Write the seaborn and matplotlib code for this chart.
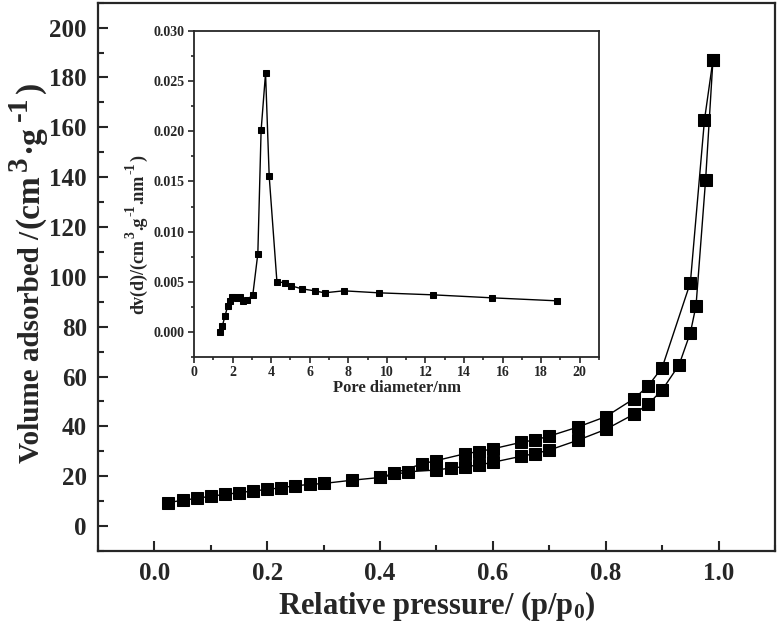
import matplotlib
matplotlib.use("Agg")
import matplotlib.pyplot as plt
import seaborn as sns
import pandas as pd
from matplotlib.ticker import MultipleLocator, FormatStrFormatter

# N2 adsorption-desorption isotherm (main plot)
ads_p = [0.025, 0.05, 0.075, 0.1, 0.125, 0.15, 0.175, 0.2, 0.225, 0.25, 0.275, 0.3,
         0.35, 0.4, 0.45, 0.5, 0.525, 0.55, 0.575, 0.6, 0.65, 0.675, 0.7, 0.75,
         0.8, 0.85, 0.875, 0.9, 0.93, 0.95, 0.96, 0.977, 0.99]
ads_v = [9.4, 10.4, 11.1, 12.0, 12.7, 13.4, 14.1, 14.7, 15.4, 16.2, 16.7, 17.1,
         18.4, 19.5, 21.8, 22.5, 23.3, 23.8, 24.5, 25.6, 28.0, 29.1, 30.5, 34.4,
         38.8, 44.9, 48.9, 54.6, 64.7, 77.6, 88.4, 139.0, 187.0]
des_p = [0.99, 0.975, 0.95, 0.9, 0.875, 0.85, 0.8, 0.75, 0.7, 0.675, 0.65, 0.6,
         0.575, 0.55, 0.5, 0.475, 0.425, 0.4]
des_v = [187.0, 163.0, 97.7, 63.6, 56.2, 51.1, 43.9, 39.7, 36.1, 34.6, 33.6, 31.0,
         29.9, 29.0, 26.3, 25.0, 21.2, 19.5]

# BJH pore size distribution (inset)
pore_d = [1.33, 1.47, 1.61, 1.75, 1.85, 1.95, 2.1, 2.25, 2.4, 2.55, 2.75, 3.05,
          3.31, 3.48, 3.71, 3.9, 4.3, 4.73, 5.04, 5.59, 6.25, 6.77, 7.76, 9.58,
          12.38, 15.46, 18.84]
pore_dv = [0.0000, 0.0006, 0.0016, 0.0026, 0.0031, 0.0035, 0.0035, 0.0034, 0.0035,
           0.0031, 0.0032, 0.0037, 0.0078, 0.0201, 0.0258, 0.0155, 0.0050, 0.0049,
           0.0046, 0.0043, 0.0041, 0.0039, 0.0041, 0.0039, 0.0037, 0.0034, 0.0031]

# axis titles, split into (text, fontsize, superscript?) pieces
main_ylabel = [('Volume adsorbed /', 21, False), ('(cm', 24, False), ('3', 21, True),
               ('·g', 24, False), ('-1', 21, True), (')', 24, False)]
inset_ylabel = [('dv(d)/(cm', 13, False), ('3', 10, True), ('.g', 13, False),
                ('-1', 10, True), ('.nm', 13, False), ('-1', 10, True), (')', 13, False)]

sns.set_style("ticks")
plt.rcParams['font.family'] = ['Liberation Serif', 'DejaVu Serif']
plt.rcParams['font.weight'] = 'bold'
plt.rcParams['mathtext.fontset'] = 'custom'
plt.rcParams['mathtext.rm'] = 'Liberation Serif:bold'
plt.rcParams['mathtext.it'] = 'Liberation Serif:bold'
plt.rcParams['mathtext.bf'] = 'Liberation Serif:bold'


def stacked_label(ax, x, y, pieces, gap=1.5, rise=2.5):
    """vertical axis title built from pieces so superscripts can stay large"""
    txt, size, _ = pieces[0]
    base = prev = ax.figure.text(x, y, txt, rotation=90, ha='center', va='bottom',
                                 fontsize=size, fontweight='bold')
    for txt, size, sup in pieces[1:]:
        if sup:
            t = ax.annotate(txt, xy=(0, 1), xycoords=(base, prev), xytext=(-rise, gap),
                            textcoords='offset points', rotation=90, ha='left', va='bottom',
                            fontsize=size, fontweight='bold', annotation_clip=False)
        else:
            t = ax.annotate(txt, xy=(1, 1), xycoords=(base, prev), xytext=(0, gap),
                            textcoords='offset points', rotation=90, ha='right', va='bottom',
                            fontsize=size, fontweight='bold', annotation_clip=False)
            base = t
        prev = t


fig = plt.figure(figsize=(7.8, 6.28), dpi=100)
ax = fig.add_axes([0.1256, 0.1226, 0.8680, 0.8731])

ads = pd.DataFrame({'p': ads_p, 'v': ads_v})
des = pd.DataFrame({'p': des_p, 'v': des_v})
for df in (ads, des):
    sns.lineplot(data=df, x='p', y='v', sort=False, estimator=None, ax=ax,
                 color='black', lw=1, marker='s', markersize=9,
                 markeredgecolor='black', markerfacecolor='black')

ax.set_xlim(-0.1, 1.1)
ax.set_ylim(-10, 210)
ax.xaxis.set_major_locator(MultipleLocator(0.2))
ax.xaxis.set_minor_locator(MultipleLocator(0.1))
ax.yaxis.set_major_locator(MultipleLocator(20))
ax.yaxis.set_minor_locator(MultipleLocator(10))
ax.xaxis.set_major_formatter(FormatStrFormatter('%.1f'))
ax.tick_params(which='both', direction='in', top=False, right=False, width=1.5)
ax.tick_params(which='major', length=7, labelsize=18, pad=8)
ax.tick_params(which='minor', length=4)
for s in ax.spines.values():
    s.set_linewidth(1.6)
ax.set_xlabel('Relative pressure/ (p/p$_0$)', fontsize=22, fontweight='bold', labelpad=3)
ax.set_ylabel('')
stacked_label(ax, 0.041, 0.262, main_ylabel, gap=2.5, rise=6)

# inset
ins = fig.add_axes([0.2487, 0.4315, 0.5193, 0.5191])
pore = pd.DataFrame({'d': pore_d, 'dv': pore_dv})
sns.lineplot(data=pore, x='d', y='dv', sort=False, estimator=None, ax=ins,
             color='black', lw=1, marker='s', markersize=5,
             markeredgecolor='black', markerfacecolor='black')
ins.set_xlim(0, 21)
ins.set_ylim(-0.0025, 0.030)
ins.xaxis.set_major_locator(MultipleLocator(2))
ins.xaxis.set_minor_locator(MultipleLocator(1))
ins.yaxis.set_major_locator(MultipleLocator(0.005))
ins.yaxis.set_minor_locator(MultipleLocator(0.0025))
ins.yaxis.set_major_formatter(FormatStrFormatter('%.3f'))
ins.tick_params(which='both', direction='out', top=False, right=False, width=1.2)
ins.tick_params(which='major', length=4.5, labelsize=10, pad=2)
ins.tick_params(which='minor', length=2.5)
for s in ins.spines.values():
    s.set_linewidth(1.3)
ins.set_xlabel('Pore diameter/nm', fontsize=12, fontweight='bold', labelpad=1)
ins.set_ylabel('')
stacked_label(ins, 0.178, 0.50, inset_ylabel, gap=0.6, rise=4)

fig.savefig('out.png', dpi=100)
